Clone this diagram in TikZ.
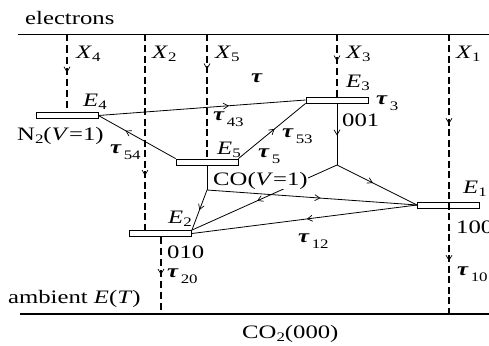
\documentclass[tikz,border=0pt]{standalone}
\usepackage{fontspec}
\setmainfont[FakeStretch=1.3]{Liberation Serif}
\usetikzlibrary{arrows.meta,decorations.markings}
\pgfdeclarelayer{bg}
\pgfsetlayers{bg,main}
\newcommand{\ssb}[1]{\raisebox{-3.5pt}{\fontsize{13}{13}\selectfont #1}}
\newcommand{\tsb}[1]{\hspace{2pt}\raisebox{-6pt}{\fontsize{13}{13}\selectfont #1}}
\newcommand{\ttau}{\textbf{\textit{τ}}}
\begin{document}
\begin{tikzpicture}[x=1pt,y=-1pt,
  lbl/.style={anchor=base west, inner sep=0pt, font=\fontsize{19}{22}\selectfont},
  bar/.style={draw, fill=white, line width=0.8pt, minimum width=62pt, minimum height=6pt, inner sep=0pt},
  conn/.style={line width=0.8pt},
  base/.style={line width=1.4pt},
  thind/.style={line width=1.1pt, dash pattern=on 7pt off 4pt},
  medd/.style={line width=1.5pt, dash pattern=on 7pt off 3.5pt},
  thickd/.style={line width=2.2pt, dash pattern=on 7pt off 3.5pt},
  arr/.style={postaction={decorate, decoration={markings, mark=at position #1 with {\arrow[solid,line width=0.7pt]{Straight Barb[length=5pt,width=6pt]}}}}}
]
\useasboundingbox (0,0) rectangle (489,345);
% coordinates
\coordinate (tl) at (18,34.5); \coordinate (tr) at (489,34.5);
\coordinate (bl) at (20,314); \coordinate (br) at (489,314);
\coordinate (x4) at (67,34.5);
\coordinate (x2) at (145,34.5); \coordinate (x2e) at (145,230.5);
\coordinate (x5) at (207,34.5);
\coordinate (x3) at (337,34.5);
\coordinate (x1) at (449,34.5); \coordinate (x1e) at (449,314);
\coordinate (t20e) at (161,314);
\coordinate (J) at (337,165);
\coordinate (K) at (207,190);
% bars
\node[bar] (E4) at (67,115.5) {};
\node[bar] (E5) at (207,162) {};
\node[bar] (E3) at (337,100) {};
\node[bar] (E2) at (160.5,233.5) {};
\node[bar] (E1) at (448.5,205) {};
\coordinate (t20s) at (161,237);
\begin{pgfonlayer}{bg}
\draw[base] (tl) -- (tr);
\draw[base] (bl) -- (br);
\draw[thind, arr=0.49] (x4) -- (E4.north);
\draw[thickd, arr=0.72] (x2) -- (x2e);
\draw[thickd, arr=0.28] (x5) -- (E5.north);
\draw[thind, arr=0.43] (x3) -- (E3.north);
\draw[thind, arr=0.49] (t20s) -- (t20e);
\draw[conn, arr=0.63] (E4.east) -- (E3.west);
\draw[conn, arr=0.65] (E5.north west) -- (E4.east);
\draw[conn, arr=0.54] (E5.north east) -- (E3.south west);
\draw[conn, arr=0.52] (E3.south) -- (J);
\draw[conn, arr=0.45] (J) -- (E1.west);
\draw[conn, arr=0.55] (J) -- (E2.north east);
\draw[conn] (E5.south) -- (K);
\draw[conn, arr=0.5] (K) -- (E2.north east);
\draw[conn, arr=0.54] (K) -- (E1.west);
\draw[conn, arr=0.49] (E1.west) -- (E2.east);
\end{pgfonlayer}
\draw[medd, arr=0.32, arr=0.81] (x1) -- (x1e);
% labels
\node[lbl] (el) at (25,25) {electrons};
\node[lbl] (lx4) at (76,58) {\textit{X}\ssb{4}};
\node[lbl] (lx2) at (152,58) {\textit{X}\ssb{2}};
\node[lbl] (lx5) at (215,58) {\textit{X}\ssb{5}};
\node[lbl] (lx3) at (346,58) {\textit{X}\ssb{3}};
\node[lbl] (lx1) at (456,58) {\textit{X}\ssb{1}};
\node[lbl] (ltau) at (251,82) {\ttau};
\node[lbl] (le4) at (83,106) {\textit{E}\ssb{4}};
\node[lbl] (le3) at (346,87) {\textit{E}\ssb{3}};
\node[lbl] (lt3) at (376,104) {\ttau\tsb{3}};
\node[lbl] (l001) at (342,126) {001};
\node[lbl] (ln2) at (17,140) {N\ssb{2}(\textit{V}=1)};
\node[lbl] (lt43) at (213,120) {\ttau\tsb{43}};
\node[lbl] (lt54) at (110,153) {\ttau\tsb{54}};
\node[lbl] (le5) at (217,154) {\textit{E}\ssb{5}};
\node[lbl] (lt53) at (282,137) {\ttau\tsb{53}};
\node[lbl] (lt5) at (258,157) {\ttau\tsb{5}};
\node[lbl, fill=white] (lco) at (213,185) {CO(\textit{V}=1)};
\node[lbl] (le2) at (168,223) {\textit{E}\ssb{2}};
\node[lbl] (l010) at (167,258) {010};
\node[lbl] (lt20) at (167,277) {\ttau\tsb{20}};
\node[lbl] (lamb) at (8,303) {ambient \textit{E}(\textit{T})};
\node[lbl] (le1) at (463,193) {\textit{E}\ssb{1}};
\node[lbl] (l100) at (456,233) {100};
\node[lbl] (lt12) at (298,242) {\ttau\tsb{12}};
\node[lbl] (lt10) at (457,275) {\ttau\tsb{10}};
\node[lbl] (lco2) at (242,338) {CO\ssb{2}(000)};
\end{tikzpicture}
\end{document}
